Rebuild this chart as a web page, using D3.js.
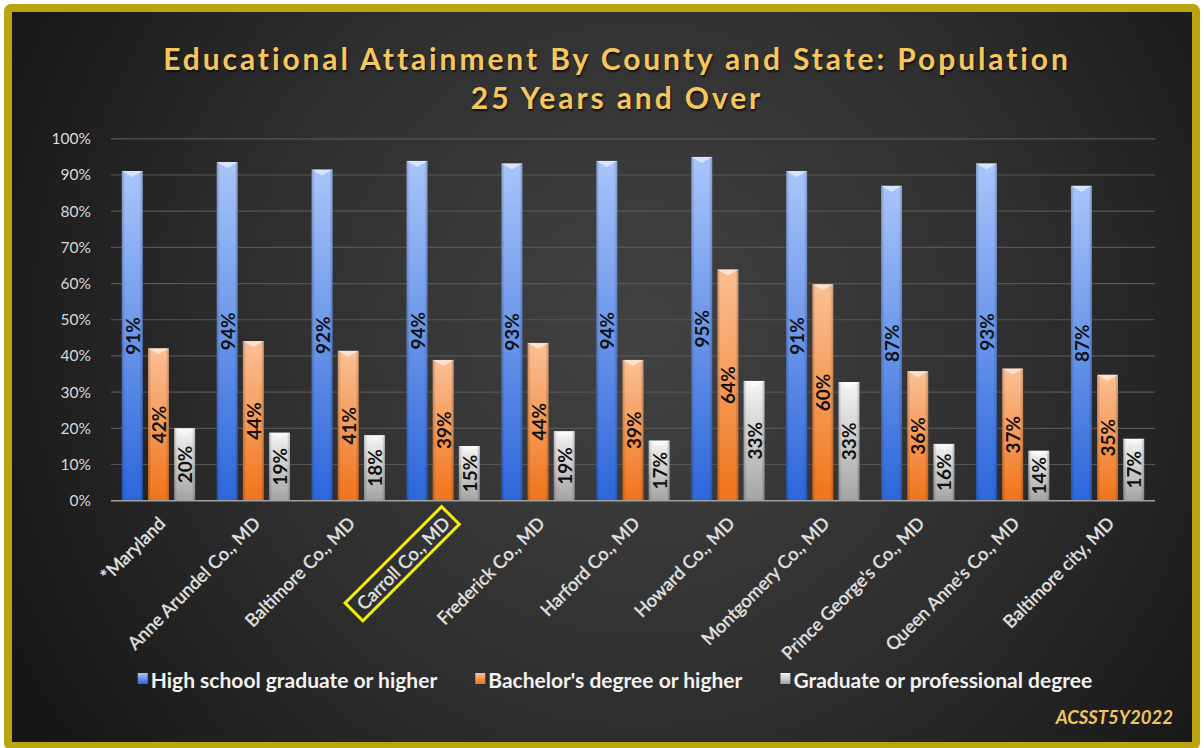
<!DOCTYPE html>
<html>
<head>
<meta charset="utf-8">
<script src="https://cdn.jsdelivr.net/npm/d3@7"></script>
<style>
  html, body { margin: 0; padding: 0; background: #ffffff; }
  svg { display: block; }
  text { font-family: Lato, "Open Sans", "DejaVu Sans", sans-serif; }
</style>
</head>
<body>
<svg id="chart" width="1204" height="748"></svg>
<script>
// ---------- data ----------
const categories = ["*Maryland", "Anne Arundel Co., MD", "Baltimore Co., MD", "Carroll Co., MD",
  "Frederick Co., MD", "Harford Co., MD", "Howard Co., MD", "Montgomery Co., MD",
  "Prince George's Co., MD", "Queen Anne's Co., MD", "Baltimore city, MD"];
const seriesNames = ["High school graduate or higher", "Bachelor's degree or higher", "Graduate or professional degree"];
const highSchool = [91.1, 93.6, 91.5, 93.9, 93.2, 93.9, 95.0, 91.1, 87.0, 93.2, 87.0];
const bachelors  = [42.1, 44.1, 41.4, 38.9, 43.6, 38.9, 63.9, 59.8, 35.8, 36.5, 34.8];
const graduate   = [20.0, 18.8, 18.1, 15.1, 19.2, 16.6, 33.1, 32.8, 15.7, 13.8, 17.1];
const yTicks = [0, 10, 20, 30, 40, 50, 60, 70, 80, 90, 100];
const titleLines = ["Educational Attainment By County and State: Population", "25 Years and Over"];
const highlighted = "Carroll Co., MD";
const sourceNote = "ACSST5Y2022";

// series colours: [top, bottom]
const seriesColors = [["#a9c5fa", "#2c66da"], ["#fbc095", "#f0731a"], ["#f5f5f5", "#a3a3a3"]];

// ---------- setup ----------
const svg = d3.select("#chart");
const defs = svg.append("defs");

const bg = defs.append("radialGradient").attr("id", "bgGrad")
  .attr("gradientUnits", "userSpaceOnUse").attr("cx", 640).attr("cy", 330).attr("r", 720);
bg.append("stop").attr("offset", "0%").attr("stop-color", "#424242");
bg.append("stop").attr("offset", "55%").attr("stop-color", "#2e2e2e");
bg.append("stop").attr("offset", "100%").attr("stop-color", "#161616");

seriesColors.forEach((c, i) => {
  const g = defs.append("linearGradient").attr("id", "sg" + i)
    .attr("x1", 0).attr("y1", 0).attr("x2", 0).attr("y2", 1);
  g.append("stop").attr("offset", "0%").attr("stop-color", c[0]);
  g.append("stop").attr("offset", "100%").attr("stop-color", c[1]);
});
const edge = defs.append("linearGradient").attr("id", "edgeGrad")
  .attr("x1", 0).attr("y1", 0).attr("x2", 1).attr("y2", 0);
edge.append("stop").attr("offset", "0%").attr("stop-color", "#000").attr("stop-opacity", 0.22);
edge.append("stop").attr("offset", "15%").attr("stop-color", "#000").attr("stop-opacity", 0);
edge.append("stop").attr("offset", "85%").attr("stop-color", "#000").attr("stop-opacity", 0);
edge.append("stop").attr("offset", "100%").attr("stop-color", "#000").attr("stop-opacity", 0.22);

// background + border
svg.append("rect").attr("x", 8).attr("y", 8).attr("width", 1188).attr("height", 738)
  .attr("rx", 3).attr("fill", "url(#bgGrad)").attr("stroke", "#bba40f").attr("stroke-width", 8);

// ---------- scales ----------
const plot = { left: 111, right: 1155, top: 138.8, bottom: 500.7 };
const x0 = d3.scaleBand().domain(categories).range([plot.left, plot.right])
  .paddingInner(0.228).paddingOuter(0.114);
const x1 = d3.scaleBand().domain(d3.range(3)).range([0, x0.bandwidth()]).paddingInner(0.2);
const y = d3.scaleLinear().domain([0, 100]).range([plot.bottom, plot.top]);

// gridlines
svg.append("g").selectAll("line").data(yTicks.filter(d => d > 0)).join("line")
  .attr("x1", plot.left).attr("x2", plot.right)
  .attr("y1", d => y(d)).attr("y2", d => y(d))
  .attr("stroke", "#565656").attr("stroke-width", 1.2);

// y axis
const yAxis = svg.append("g").attr("transform", `translate(${plot.left - 17},0)`)
  .call(d3.axisLeft(y).tickValues(yTicks).tickFormat(d => d + "%").tickSize(0));
yAxis.select(".domain").remove();
yAxis.selectAll("text").attr("fill", "#d9d9d9").style("font-size", "15.5px")
  .style("font-family", "Lato, sans-serif");

// ---------- bars ----------
const seriesData = [highSchool, bachelors, graduate];
const groups = svg.append("g").selectAll("g").data(categories).join("g")
  .attr("transform", d => `translate(${x0(d)},0)`);

const cells = groups.selectAll("g.bar").data((d, ci) => seriesData.map((s, si) => ({ si, v: s[ci] })))
  .join("g").attr("class", "bar");

cells.append("rect")
  .attr("x", d => x1(d.si)).attr("width", x1.bandwidth())
  .attr("y", d => y(d.v)).attr("height", d => y(0) - y(d.v))
  .attr("fill", d => `url(#sg${d.si})`);
cells.append("rect")
  .attr("x", d => x1(d.si)).attr("width", x1.bandwidth())
  .attr("y", d => y(d.v)).attr("height", d => y(0) - y(d.v))
  .attr("fill", "url(#edgeGrad)");
cells.append("path")
  .attr("d", d => {
    const xl = x1(d.si), w = x1.bandwidth(), yt = y(d.v);
    return `M${xl},${yt}L${xl + w},${yt}L${xl + w / 2},${yt + 6}Z`;
  })
  .attr("fill", "#ffffff").attr("fill-opacity", 0.55);

cells.append("text")
  .attr("transform", d => `translate(${x1(d.si) + x1.bandwidth() / 2},${(y(d.v) + y(0)) / 2}) rotate(-90)`)
  .attr("text-anchor", "middle").attr("dominant-baseline", "central")
  .style("font-size", "19px").style("font-weight", 700).attr("fill", "#111")
  .text(d => Math.round(d.v) + "%");

// baseline
svg.append("line").attr("x1", plot.left).attr("x2", plot.right)
  .attr("y1", y(0)).attr("y2", y(0)).attr("stroke", "#a0a0a0").attr("stroke-width", 1.5);

// ---------- x labels ----------
const xl = svg.append("g").selectAll("g").data(categories).join("g")
  .attr("transform", d => `translate(${x0(d) + x0.bandwidth() / 2 + 3},${plot.bottom + 19}) rotate(-45)`);
xl.append("text")
  .attr("text-anchor", "end").attr("dominant-baseline", "central")
  .attr("fill", "#e2e2e2").attr("stroke", "#e2e2e2").attr("stroke-width", 0.4)
  .style("font-size", "18px")
  .text(d => d);
xl.filter(d => d === highlighted).each(function () {
  const g = d3.select(this);
  const len = g.select("text").node().getComputedTextLength();
  g.insert("rect", "text")
    .attr("x", -len - 8).attr("y", -12.5).attr("width", len + 14).attr("height", 25)
    .attr("fill", "none").attr("stroke", "#f2ee0a").attr("stroke-width", 3);
});

// ---------- title ----------
svg.append("g").selectAll("text").data(titleLines).join("text")
  .attr("x", 617).attr("y", (d, i) => 70 + i * 39)
  .attr("text-anchor", "middle")
  .attr("fill", "#f6c75c").style("font-size", "30px").style("font-weight", 700)
  .style("letter-spacing", "2.9px")
  .style("text-shadow", "1px 2px 2px rgba(0,0,0,0.7)")
  .text(d => d);

// ---------- legend ----------
const legend = svg.append("g");
const items = legend.selectAll("g").data(seriesNames).join("g");
items.append("rect").attr("width", 10).attr("height", 11).attr("y", -6)
  .attr("fill", (d, i) => `url(#sg${i})`);
items.append("text").attr("x", 13).attr("dominant-baseline", "central")
  .attr("fill", "#f2f2f2").style("font-size", "21px").style("font-weight", 700)
  .text(d => d);
const widths = [];
items.each(function () { widths.push(13 + d3.select(this).select("text").node().getComputedTextLength()); });
const gap = 38;
const total = d3.sum(widths) + gap * (widths.length - 1);
const start = 615 - total / 2;
items.attr("transform", (d, i) => {
  const xPos = start + d3.sum(widths.slice(0, i)) + gap * i;
  return `translate(${xPos},679)`;
});

// ---------- source ----------
svg.append("text").attr("x", 1173).attr("y", 717).attr("text-anchor", "end")
  .attr("dominant-baseline", "central")
  .attr("fill", "#f0c55c").style("font-size", "18.5px").style("font-weight", 700).style("font-style", "italic")
  .text(sourceNote);
</script>
</body>
</html>
